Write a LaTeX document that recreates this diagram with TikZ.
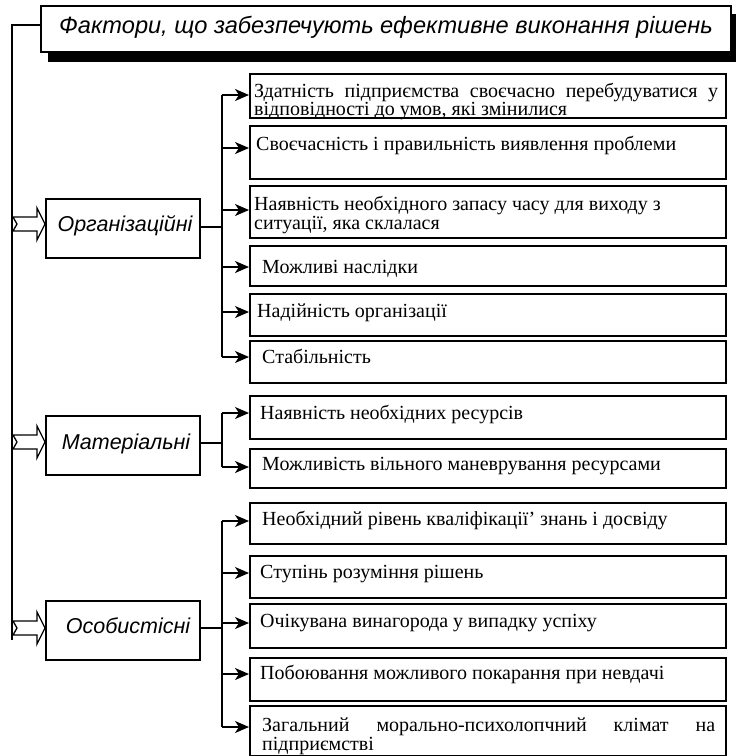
\documentclass[tikz,border=0pt]{standalone}
\usepackage{fontspec}
\setmainfont{Liberation Serif}
\newfontfamily\arialf{Liberation Sans}
\usetikzlibrary{arrows.meta}
\begin{document}
\begin{tikzpicture}[x=1pt,y=-1pt,
  rbox/.style={draw, line width=1.6pt, minimum width=476pt, anchor=north west, inner sep=0pt},
  cbox/.style={draw, line width=1.6pt, minimum width=154pt, minimum height=59pt, anchor=north west, inner sep=0pt},
  rtxt/.style={anchor=base west, inner sep=0pt, font=\fontsize{20}{18}\selectfont},
  ctxt/.style={anchor=base, inner sep=0pt, font=\arialf\itshape\fontsize{21.5}{22}\selectfont},
  conn/.style={line width=1.6pt},
  arr/.style={line width=1.6pt, -{Stealth[length=14pt,width=12pt,inset=4pt]}},
  blockarr/.style={line width=1.3pt, fill=white, line join=miter}
]
\useasboundingbox (0,0) rectangle (740,756);

% title with shadow
\fill (48,14) rectangle (736,62);
\node[draw, fill=white, line width=1.6pt, minimum width=690pt, minimum height=46pt, anchor=north west, inner sep=0pt] (title) at (40,5) {};
\node[anchor=base, inner sep=0pt, font=\arialf\itshape\fontsize{23.6}{25}\selectfont] (titletxt) at (386,33) {Фактори, що забезпечують ефективне виконання рішень};

% left spine
\coordinate (L0) at (12,25);
\coordinate (Lend) at (12,640);
\draw[conn] (title.west |- L0) -- (L0) -- (Lend);

% category boxes
\node[cbox] (org) at (45,198) {};
\node[cbox] (mat) at (45,415) {};
\node[cbox] (osob) at (45,600) {};
\node[ctxt] (orgt) at (125,231) {Організаційні};
\node[ctxt] (matt) at (126,449) {Матеріальні};
\node[ctxt] (osobt) at (128,633) {Особистісні};

% block arrows from spine to categories
\foreach \c in {224,442,628}{
  \draw[blockarr] (13,\c-7) -- (37,\c-7) -- (37,\c-16) -- (45,\c) -- (37,\c+16) -- (37,\c+7) -- (13,\c+7) -- (17,\c) -- cycle;
}

% right boxes (single-line)
\foreach \n/\t/\b/\a/\tx/\bl/\txt in {
  2/125/178/148/256/150/{Своєчасність і правильність виявлення проблеми},
  4/245/285/267/262/273/{Можливі наслідки},
  5/293/335/312/257/317/{Надійність організації},
  6/340/382/357/262/363/{Стабільність},
  7/395/438/413/260/419/{Наявність  необхідних  ресурсів},
  8/448/487/467/262/470/{Можливість  вільного  маневрування  ресурсами},
  9/502/543/521/262/525/{Необхідний рівень кваліфікації' знань і досвіду},
  10/555/597/573/260/578/{Ступінь розуміння рішень},
  11/603/647/623/260/627/{Очікувана  винагорода  у  випадку  успіху},
  12/657/700/674/260/679/{Побоювання можливого покарання при невдачі}}{
  \pgfmathsetmacro{\h}{\b-\t}
  \node[rbox, minimum height=\h pt] (b\n) at (249,\t) {};
  \node[rtxt] (t\n) at (\tx,\bl) {\txt};
  \coordinate (a\n) at (0,\a);
}

% box 1 (two lines)
\node[rbox, minimum height=44pt] (b1) at (249,73) {};
\node[rtxt] (t1a) at (254,97) {\makebox[464pt][s]{Здатність підприємства своєчасно перебудуватися у}};
\node[rtxt] (t1b) at (254,115) {відповідності до умов, які змінилися};
\coordinate (a1) at (0,95);

% box 3 (two lines)
\node[rbox, minimum height=52pt] (b3) at (249,185) {};
\node[rtxt] (t3a) at (254,210) {Наявність  необхідного  запасу часу для  виходу з};
\node[rtxt] (t3b) at (254,229) {ситуації, яка склалася};
\coordinate (a3) at (0,210);

% box 13 (two lines)
\node[rbox, minimum height=50pt] (b13) at (249,705) {};
\node[rtxt] (t13a) at (262,731) {\makebox[453pt][s]{Загальний морально-психолопчний клімат на}};
\node[rtxt] (t13b) at (262,750) {підприємстві};
\coordinate (a13) at (0,727);

% junctions
\coordinate (jO) at (222,227);
\coordinate (jM) at (222,443);
\coordinate (jP) at (222,628);

\draw[conn] (org.east |- jO) -- (jO);
\draw[conn] (mat.east |- jM) -- (jM);
\draw[conn] (osob.east |- jP) -- (jP);

\draw[conn] (jO |- a1) -- (jO |- a6);
\draw[conn] (jM |- a7) -- (jM |- a8);
\draw[conn] (jP |- a9) -- (jP |- a13);

\foreach \n in {1,2,3,4,5,6}{\draw[arr] (jO |- a\n) -- (b\n.west |- a\n);}
\foreach \n in {7,8}{\draw[arr] (jM |- a\n) -- (b\n.west |- a\n);}
\foreach \n in {9,10,11,12,13}{\draw[arr] (jP |- a\n) -- (b\n.west |- a\n);}
\end{tikzpicture}
\end{document}
